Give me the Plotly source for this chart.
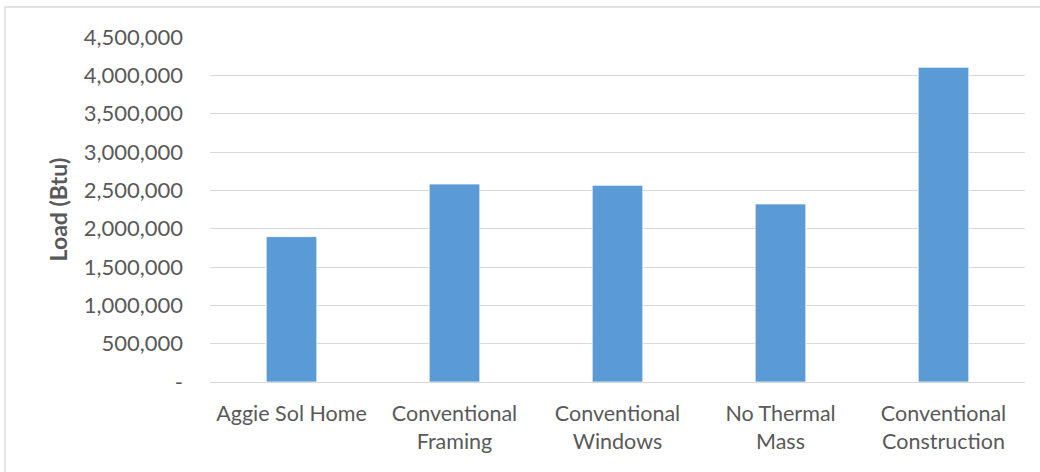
import plotly.graph_objects as go

categories = ["Aggie Sol Home", "Conventional<br>Framing", "Conventional<br>Windows",
              "No Thermal<br>Mass", "Conventional<br>Construction"]
loads = [1896000, 2582000, 2565000, 2322000, 4105000]
tick_values = [0, 500000, 1000000, 1500000, 2000000, 2500000, 3000000, 3500000, 4000000, 4500000]
tick_labels = ["-", "500,000", "1,000,000", "1,500,000", "2,000,000", "2,500,000",
               "3,000,000", "3,500,000", "4,000,000", "4,500,000"]

FONT = "Lato"
TXT = "#595959"

fig = go.Figure(go.Bar(
    x=categories, y=loads,
    marker=dict(color="#5B9BD5", line=dict(color="rgba(255,255,255,0.7)", width=1)),
))

fig.update_layout(
    width=1040, height=472,
    margin=dict(l=210, r=15, t=37, b=90),
    paper_bgcolor="white", plot_bgcolor="white",
    bargap=0.69,
    showlegend=False,
    font=dict(family=FONT, size=22, color=TXT),
    xaxis=dict(
        showgrid=False, showline=False, zeroline=False,
        ticks="outside", ticklen=12, tickcolor="rgba(0,0,0,0)",
        tickfont=dict(family=FONT, size=21.5, color=TXT),
    ),
    yaxis=dict(
        range=[0, 4500000],
        tickvals=tick_values, ticktext=tick_labels,
        showgrid=True, gridcolor="#D9D9D9", gridwidth=1.3,
        zeroline=True, zerolinecolor="#D9D9D9", zerolinewidth=1.3,
        showline=False,
        ticklabelstandoff=26,
        tickfont=dict(family=FONT, size=22, color=TXT),
        title=dict(text="<b>Load (Btu)</b>", font=dict(family=FONT, size=23, color=TXT), standoff=9),
    ),
    shapes=[dict(type="rect", xref="paper", yref="paper",
                 x0=(5 - 210) / 815, x1=(1045 - 210) / 815,
                 y0=(382 - 480) / 345, y1=(382 - 7) / 345,
                 line=dict(color="#D9D9D9", width=1.3), fillcolor="rgba(0,0,0,0)", layer="below")],
)

fig.write_html("out.html")
